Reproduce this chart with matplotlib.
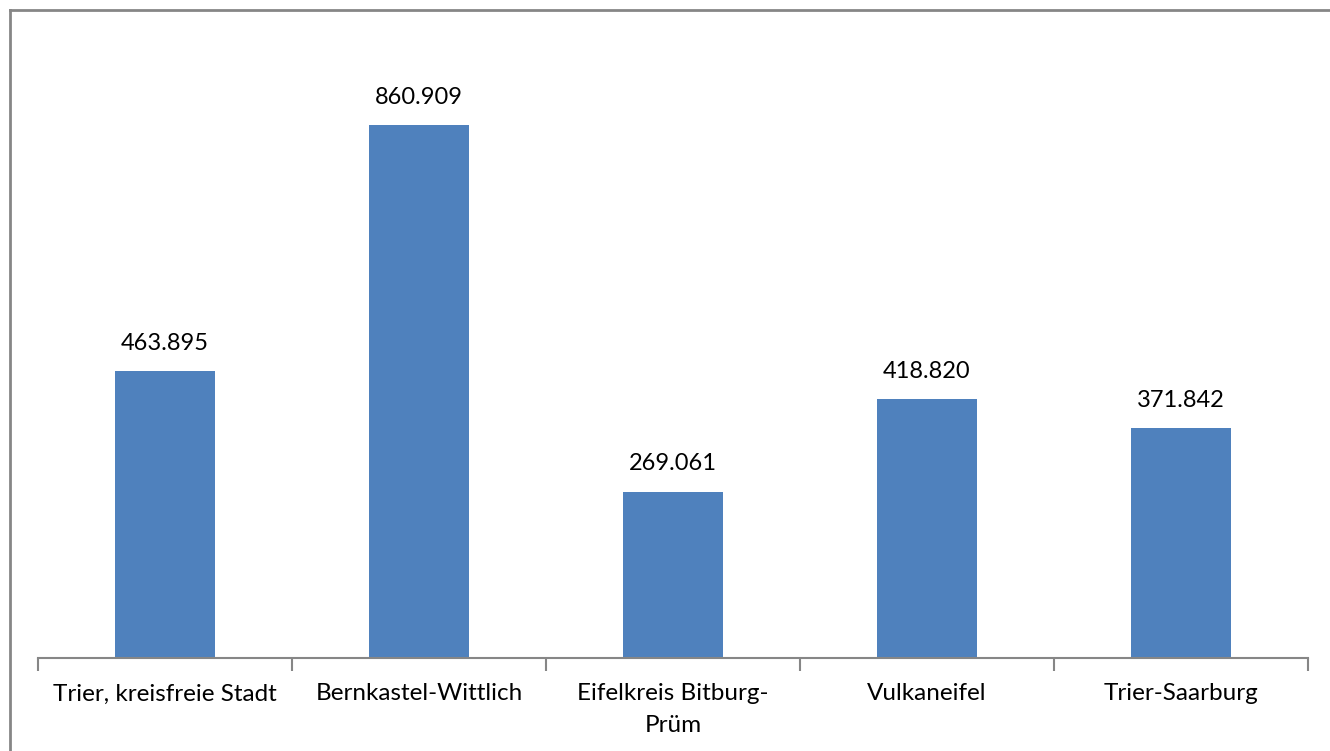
import matplotlib.pyplot as plt
from matplotlib.lines import Line2D

regions = ['Trier, kreisfreie Stadt', 'Bernkastel-Wittlich', 'Eifelkreis Bitburg-\nPrüm',
           'Vulkaneifel', 'Trier-Saarburg']
values = [463.895, 860.909, 269.061, 418.820, 371.842]
value_labels = ['463.895', '860.909', '269.061', '418.820', '371.842']

plt.rcParams['font.family'] = ['Lato', 'DejaVu Sans']

fig = plt.figure(figsize=(13.3, 7.51), dpi=100)
ax = fig.add_axes([38 / 1330, (751 - 658) / 751, 1270 / 1330, 618.7 / 751])

x = list(range(len(regions)))
bars = ax.bar(x, values, width=0.394, color='#4F81BD')
for b, lab in zip(bars, value_labels):
    ax.text(b.get_x() + b.get_width() / 2, b.get_height() + 28, lab,
            ha='center', va='bottom', fontsize=17, color='black')

ax.set_xlim(-0.5, len(regions) - 0.5)
ax.set_ylim(0, 1000)
ax.set_yticks([])
for s in ['top', 'right', 'left']:
    ax.spines[s].set_visible(False)
ax.spines['bottom'].set_color('#868686')
ax.spines['bottom'].set_linewidth(1.5)

ax.set_xticks([i - 0.5 for i in range(len(regions) + 1)], minor=False)
ax.set_xticklabels([])
ax.tick_params(axis='x', length=9, width=1.5, color='#868686', direction='out')
for i, r in enumerate(regions):
    ax.text(i, -41, r, ha='center', va='top', fontsize=17.5, color='black',
            linespacing=1.6)

# outer chart border (only top and left visible in the image)
fig.add_artist(Line2D([10 / 1330, 10 / 1330], [0, 1 - 10 / 751], color='#868686', lw=2))
fig.add_artist(Line2D([10 / 1330, 1], [1 - 10 / 751, 1 - 10 / 751], color='#868686', lw=2))

fig.savefig('out.png', dpi=100, facecolor='white')
